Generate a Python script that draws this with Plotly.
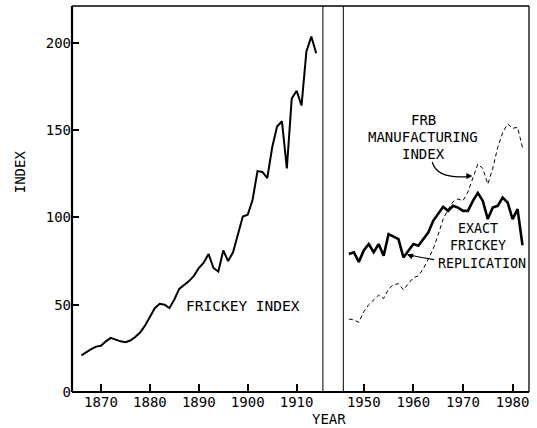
import plotly.graph_objects as go

# ---------------- data ----------------
frickey_years = list(range(1866, 1915))
frickey_vals = [21, 23, 24.5, 26, 26.5, 29, 31, 30, 29, 28.5,
                29.5, 31.5, 34, 38, 43, 48, 50.5, 50, 48, 53,
                59, 61, 63.5, 66.5, 71, 74, 79, 71, 69, 81,
                75, 80, 90, 100.5, 101.5, 110, 126.5, 126, 122.5, 140,
                152, 155, 128, 168, 172.5, 164, 195, 203.5, 194]

post_years = list(range(1947, 1983))
replication_vals = [79, 80, 74.5, 81, 84.7, 80, 84.7, 78, 90.4, 88.8,
                    87.5, 77, 81, 84.7, 83.7, 87.5, 91.3, 98, 102, 106,
                    103.7, 106.6, 105.6, 103.7, 103.7, 109.4, 114, 109.4, 99, 105.6,
                    106.6, 111.3, 108.5, 99, 104.7, 84]
frb_vals = [41.8, 41.3, 39.9, 46, 50, 52.5, 55.5, 53.5, 59, 61.5,
            62, 58.5, 62, 65.5, 66.5, 70.5, 76, 82, 90, 99,
            104.5, 109, 110.5, 109.5, 114.5, 122, 130.5, 128, 119, 128,
            140, 148.5, 153.5, 151, 151.5, 140]

left_ticks = [1870, 1880, 1890, 1900, 1910]
right_ticks = [1950, 1960, 1970, 1980]
y_ticks = [0, 50, 100, 150, 200]

FONT = "DejaVu Sans Mono"

fig = go.Figure()
fig.add_trace(go.Scatter(x=frickey_years, y=frickey_vals, mode="lines",
                         line=dict(color="black", width=2), xaxis="x", yaxis="y",
                         showlegend=False))
fig.add_trace(go.Scatter(x=post_years, y=frb_vals, mode="lines",
                         line=dict(color="black", width=1, dash="4px,3px"),
                         xaxis="x2", yaxis="y2", showlegend=False))
fig.add_trace(go.Scatter(x=post_years, y=replication_vals, mode="lines",
                         line=dict(color="black", width=2.6), xaxis="x2", yaxis="y2",
                         showlegend=False))

d_left = [0, 0.549]
d_right = [0.5937, 1]

fig.update_layout(
    width=537, height=428,
    margin=dict(l=72, r=8, t=6, b=36),
    paper_bgcolor="white", plot_bgcolor="white",
    font=dict(family=FONT, color="black", size=14),
    xaxis=dict(domain=d_left, range=[1864.08, 1915.37], tickvals=left_ticks,
               ticks="inside", ticklen=8, tickwidth=1.5, tickcolor="black",
               showgrid=False, zeroline=False, showline=False,
               tickfont=dict(size=14, family=FONT)),
    xaxis2=dict(domain=d_right, range=[1945.88, 1983.31], tickvals=right_ticks,
                ticks="inside", ticklen=8, tickwidth=1.5, tickcolor="black",
                showgrid=False, zeroline=False, showline=False, anchor="y2",
                tickfont=dict(size=14, family=FONT)),
    yaxis=dict(range=[0, 221], tickvals=y_ticks, ticks="inside", ticklen=7,
               tickwidth=1.5, tickcolor="black", showgrid=False, zeroline=False,
               showline=False, tickfont=dict(size=14, family=FONT)),
    yaxis2=dict(range=[0, 221], anchor="x2", showticklabels=False, ticks="",
                showgrid=False, zeroline=False, showline=False),
)

# frame
frame = [
    dict(x0=0, x1=1, y0=1, y1=1, w=1.5),
    dict(x0=0, x1=1, y0=0, y1=0, w=2.2),
    dict(x0=0, x1=0, y0=0, y1=1, w=2.2),
    dict(x0=1, x1=1, y0=0, y1=1, w=1.3),
    dict(x0=d_left[1], x1=d_left[1], y0=0, y1=1, w=1),
    dict(x0=d_right[0], x1=d_right[0], y0=0, y1=1, w=1),
]
for f in frame:
    fig.add_shape(type="line", xref="paper", yref="paper", x0=f["x0"], x1=f["x1"],
                  y0=f["y0"], y1=f["y1"], line=dict(color="black", width=f["w"]))

# curved arrow lines
fig.add_shape(type="path", xref="x2", yref="y2",
              path="M 1963.8 131.7 Q 1964.8 121.5 1971.5 123.5",
              line=dict(color="black", width=1.2))
fig.add_shape(type="path", xref="x2", yref="y2",
              path="M 1964.2 75.8 Q 1961.5 77.0 1959.0 78.6",
              line=dict(color="black", width=1.2))

# arrow heads
fig.add_annotation(x=1971.9, y=123.6, xref="x2", yref="y2", text="", showarrow=True,
                   ax=-8, ay=0, arrowhead=2, arrowsize=1, arrowwidth=1.2, arrowcolor="black")
fig.add_annotation(x=1958.7, y=78.8, xref="x2", yref="y2", text="", showarrow=True,
                   ax=8, ay=3, arrowhead=2, arrowsize=1, arrowwidth=1.2, arrowcolor="black")

labels = [
    ("FRICKEY INDEX", "x", "y", 1899.1, 49, 14.5),
    ("FRB", "x2", "y2", 1962.0, 155.6, 14),
    ("MANUFACTURING", "x2", "y2", 1962.0, 146.0, 14),
    ("INDEX", "x2", "y2", 1962.0, 136.5, 14),
]
for t, xr, yr, xv, yv, fs in labels:
    fig.add_annotation(x=xv, y=yv, xref=xr, yref=yr, text=t, showarrow=False,
                       font=dict(size=fs, family=FONT, color="black"),
                       xanchor="center", yanchor="middle")

fig.add_annotation(x=1973.9, y=83.8, xref="x2", yref="y2",
                   text="EXACT&nbsp;<br>FRICKEY&nbsp;<br>REPLICATION",
                   showarrow=False, align="center", xanchor="center", yanchor="middle",
                   font=dict(size=13.3, family=FONT, color="black"))

fig.add_annotation(x=(20 - 72) / 457, y=(391.7 - 172) / 386, xref="paper", yref="paper",
                   text="INDEX", showarrow=False, textangle=-90,
                   xanchor="center", yanchor="middle",
                   font=dict(size=14, family=FONT, color="black"))
fig.add_annotation(x=(329 - 72) / 457, y=(391.7 - 418.5) / 386, xref="paper", yref="paper",
                   text="YEAR", showarrow=False, xanchor="center", yanchor="middle",
                   font=dict(size=14, family=FONT, color="black"))

fig.write_html("out.html", config={"displayModeBar": False},
               post_script="document.body.style.margin='0px';")
